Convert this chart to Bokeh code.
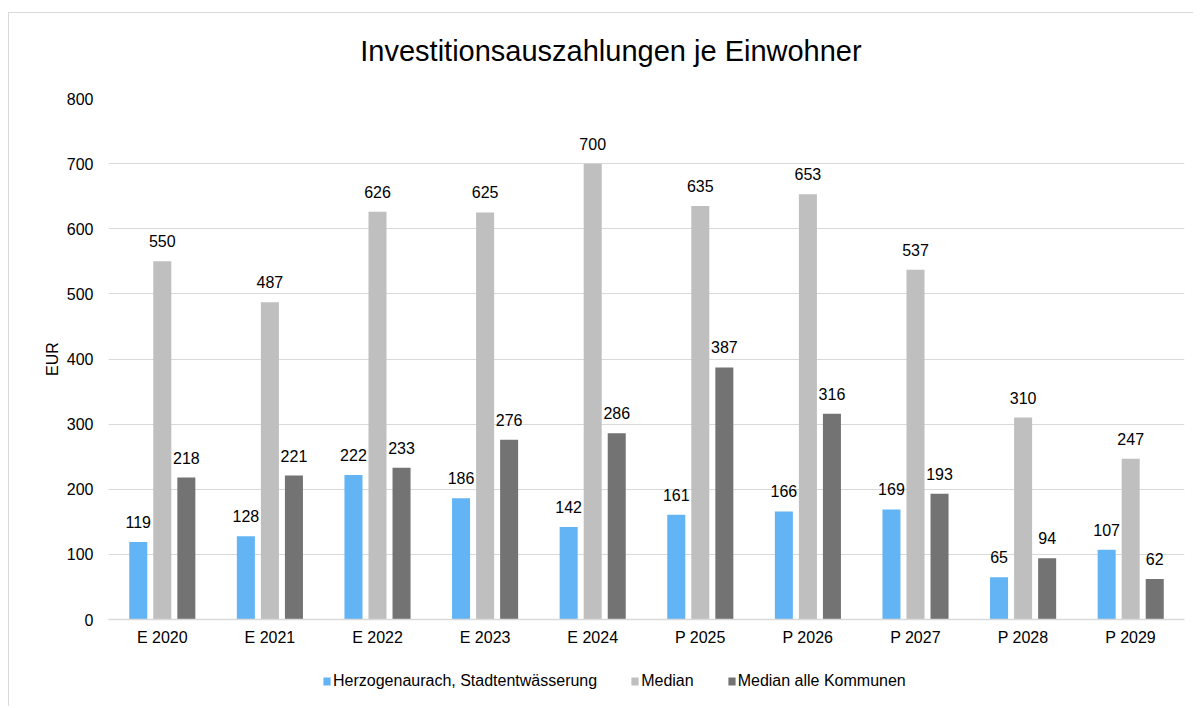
from bokeh.plotting import figure
from bokeh.models import FactorRange, Legend, LegendItem, ColumnDataSource, Range1d
from bokeh.layouts import column
from bokeh.transform import dodge
from bokeh.core.properties import value
from bokeh.embed import file_html
from bokeh.resources import INLINE

categories = ["E 2020", "E 2021", "E 2022", "E 2023", "E 2024",
              "P 2025", "P 2026", "P 2027", "P 2028", "P 2029"]
herzogenaurach = [119, 128, 222, 186, 142, 161, 166, 169, 65, 107]
median = [550, 487, 626, 625, 700, 635, 653, 537, 310, 247]
median_alle = [218, 221, 233, 276, 286, 387, 316, 193, 94, 62]
series_names = ["Herzogenaurach, Stadtentwässerung", "Median", "Median alle Kommunen"]
y_ticks = [0, 100, 200, 300, 400, 500, 600, 700, 800]
title_text = "Investitionsauszahlungen je Einwohner"

colors = ["#63B4F5", "#BFBFBF", "#737373"]
FONT = "Liberation Sans"
BORDER = "1px solid #d9d9d9"
W = 1185
FRAME_W = 1075  # inner plotting width shared by the stacked figures

# ---------- title strip ----------
TH = 74
tf = figure(width=W, height=TH, x_range=Range1d(0, FRAME_W), y_range=Range1d(0, TH),
            output_backend="svg", toolbar_location=None, title_location=None,
            min_border=0, margin=(12, 0, 0, 8),
            styles={"border-left": BORDER, "border-top": BORDER})
tf.axis.visible = False
tf.grid.visible = False
tf.outline_line_color = None
tf.text(x=[502], y=[37], text=[title_text], text_align="center",
        text_baseline="middle", text_font=value(FONT), text_font_size="29px",
        text_color="#000000")

# ---------- main chart ----------
src = ColumnDataSource(data=dict(
    cat=categories,
    s0=herzogenaurach, s1=median, s2=median_alle,
    t0=[str(v) for v in herzogenaurach],
    t1=[str(v) for v in median],
    t2=[str(v) for v in median_alle],
))

p = figure(
    x_range=FactorRange(factors=categories),
    y_range=(0, 800),
    width=W, height=573,
    output_backend="svg", toolbar_location=None, title_location=None,
    min_border_left=99, min_border_right=10,
    min_border_top=12, min_border_bottom=40,
    margin=(0, 0, 0, 8),
    styles={"border-left": BORDER},
)

offsets = [-0.2234, 0.0, 0.2234]
for i in range(3):
    p.vbar(x=dodge("cat", offsets[i], range=p.x_range), top="s%d" % i, width=0.1675,
           source=src, color=colors[i], line_color=None)
    p.text(x=dodge("cat", offsets[i], range=p.x_range), y="s%d" % i, text="t%d" % i,
           source=src, text_align="center", text_baseline="middle", y_offset=-20,
           text_font=value(FONT), text_font_size="16px", text_color="#000000")

p.yaxis.ticker = y_ticks
p.yaxis.axis_label = "EUR"
p.yaxis.axis_label_text_font = FONT
p.yaxis.axis_label_text_font_size = "16px"
p.yaxis.axis_label_text_font_style = "normal"
p.yaxis.axis_label_text_color = "#000000"
p.yaxis.axis_label_standoff = 3
p.yaxis.major_label_text_font = FONT
p.yaxis.major_label_text_font_size = "16px"
p.yaxis.major_label_text_color = "#000000"
p.yaxis.major_label_standoff = 15
p.yaxis.axis_line_color = None
p.yaxis.major_tick_line_color = None
p.yaxis.minor_tick_line_color = None
p.yaxis.major_tick_out = 0
p.yaxis.minor_tick_out = 0

p.xaxis.major_label_text_font = FONT
p.xaxis.major_label_text_font_size = "16px"
p.xaxis.major_label_text_color = "#000000"
p.xaxis.major_label_standoff = 9
p.xaxis.axis_line_color = "#d9d9d9"
p.xaxis.axis_line_width = 1.5
p.xaxis.major_tick_line_color = None
p.xaxis.minor_tick_line_color = None
p.xaxis.major_tick_out = 0
p.xaxis.minor_tick_out = 0

p.xgrid.grid_line_color = None
p.ygrid.grid_line_color = "#d9d9d9"
p.ygrid.grid_line_width = 1
p.outline_line_color = None

# ---------- legend strip ----------
LH = 47
lf = figure(width=W, height=LH, x_range=Range1d(0, 1), y_range=Range1d(0, 1),
            output_backend="svg", toolbar_location=None, title_location=None,
            min_border=0, margin=(0, 0, 0, 8), styles={"border-left": BORDER})
lf.axis.visible = False
lf.grid.visible = False
lf.outline_line_color = None
# zero-height proxy bars that only supply the legend swatches
leg_r = [lf.vbar(x=[0.5], top=[0], bottom=[0], width=0.1, color=colors[i], line_color=None)
         for i in range(3)]
legend = Legend(
    items=[LegendItem(label=series_names[i], renderers=[leg_r[i]]) for i in range(3)],
    orientation="horizontal",
    location=(214, 16),
    glyph_width=9, glyph_height=10,
    label_standoff=2, spacing=33, padding=0, margin=0,
    label_text_font=FONT, label_text_font_size="16px", label_text_color="#000000",
    border_line_color=None, background_fill_alpha=0,
)
lf.add_layout(legend, "center")

layout = column(tf, p, lf, spacing=0)
open("out.html", "w").write(file_html(layout, INLINE))
